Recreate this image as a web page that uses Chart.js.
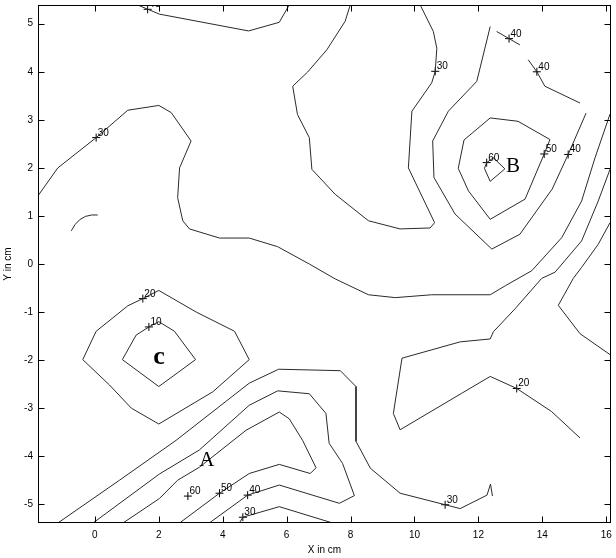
<!DOCTYPE html>
<html>
<head>
<meta charset="utf-8">
<script src="https://cdn.jsdelivr.net/npm/chart.js@4/dist/chart.umd.min.js"></script>
<style>
  html, body { margin: 0; padding: 0; background: #fff; }
</style>
</head>
<body>
<canvas id="plot" width="616" height="558"></canvas>
<script>
const xTicks = [0, 2, 4, 6, 8, 10, 12, 14, 16];
const yTicks = [-5, -4, -3, -2, -1, 0, 1, 2, 3, 4, 5];

// contour lines as [x, y] in cm
const topLine = [[1.34, 5.39], [2.02, 5.2], [4.81, 4.85], [5.77, 5.03], [6.08, 5.39]];
const middle30 = [
  [7.99, 5.39], [7.83, 5.05], [7.26, 4.46], [6.65, 3.99], [6.19, 3.7], [6.34, 3.11],
  [6.71, 2.63], [6.79, 1.97], [7.52, 1.45], [8.56, 0.9], [9.55, 0.73], [10.49, 0.75],
  [10.63, 0.86], [9.81, 2.0], [9.92, 3.18], [10.54, 3.77], [10.65, 4.01], [10.7, 4.49],
  [10.59, 4.84], [10.18, 5.39],
];
const left30 = [
  [-1.78, 1.42], [-1.16, 2.0], [0.04, 2.63], [1.03, 3.2], [2.0, 3.3], [2.39, 3.15],
  [3.01, 2.56], [2.65, 2.0], [2.59, 1.38], [2.75, 0.9], [2.96, 0.73], [3.9, 0.54],
  [4.83, 0.54], [5.72, 0.36], [6.71, 0.0], [7.52, -0.31], [8.56, -0.64], [9.4, -0.7],
  [10.54, -0.64], [12.37, -0.64], [12.85, -0.45], [13.67, -0.14], [14.61, 0.55],
  [15.23, 1.31], [15.65, 2.21], [16.12, 3.12],
];
const right20 = [
  [16.12, 1.97], [15.75, 1.31], [15.23, 0.48], [14.4, -0.17], [13.98, -0.3], [13.15, -0.93],
  [12.47, -1.41], [12.37, -1.56], [11.43, -1.62], [9.61, -1.96], [9.34, -3.11], [9.55, -3.45],
  [11.48, -2.69], [12.37, -2.34], [13.2, -2.59], [14.29, -3.07], [15.18, -3.62],
];
const rightEdge = [
  [16.12, 0.86], [15.75, 0.41], [15.23, -0.07], [14.97, -0.3], [14.5, -0.86], [15.18, -1.45],
  [16.15, -1.9],
];
const ringB40 = [
  [12.37, 4.94], [11.95, 3.8], [11.06, 3.18], [10.57, 2.56], [10.61, 1.8], [11.27, 1.04],
  [12.42, 0.31], [13.3, 0.62], [14.31, 1.56], [14.81, 2.28], [15.37, 3.14],
];
const ringB50 = [
  [12.37, 3.04], [13.24, 2.97], [14.24, 2.59], [14.06, 2.29], [13.46, 1.35], [12.37, 0.93],
  [11.69, 1.52], [11.37, 1.99], [11.55, 2.58], [12.37, 3.04],
];
const ringB60 = [[12.26, 2.11], [12.47, 2.21], [12.83, 1.98], [12.37, 1.72], [12.19, 1.99], [12.26, 2.11]];
const piece40a = [[12.57, 4.84], [12.96, 4.69], [13.3, 4.56]];
const piece40b = [[13.56, 4.25], [13.83, 4.0], [14.08, 3.7], [15.18, 3.35]];
const ringC20 = [
  [2.0, -0.55], [3.17, -1.0], [4.37, -1.4], [4.83, -1.99], [3.69, -2.66], [2.0, -3.33],
  [1.14, -3.0], [0.46, -2.52], [-0.38, -1.99], [0.04, -1.4], [1.03, -0.87], [1.5, -0.72],
  [2.0, -0.55],
];
const ringC10 = [
  [2.0, -1.2], [2.49, -1.4], [3.15, -1.99], [2.0, -2.55], [0.86, -1.99], [1.29, -1.48],
  [1.69, -1.31], [2.0, -1.2],
];
const arcLeft = [[-0.74, 0.69], [-0.62, 0.82], [-0.48, 0.92], [-0.3, 0.99], [-0.1, 1.02], [0.09, 1.02]];
const bottom30 = [
  [-1.16, -5.39], [0.77, -4.5], [2.54, -3.67], [4.83, -2.48], [5.75, -2.19], [7.68, -2.22],
  [8.17, -2.55], [8.17, -3.69], [8.62, -4.25], [9.55, -4.77], [10.96, -5.01], [11.43, -5.09],
  [12.27, -4.81], [12.38, -4.58], [12.44, -4.83],
];
const bottom40 = [
  [-0.06, -5.39], [2.02, -4.37], [3.27, -3.87], [4.83, -2.94], [5.72, -2.64], [6.71, -2.7],
  [7.23, -3.11], [7.33, -3.73], [7.75, -4.15], [8.12, -4.82], [7.65, -4.98], [5.77, -4.6],
  [4.78, -4.81], [3.58, -5.39],
];
const bottom50 = [
  [0.88, -5.39], [2.02, -4.88], [2.59, -4.5], [3.27, -4.23], [4.73, -3.46], [5.77, -3.08],
  [6.08, -3.22], [6.5, -3.67], [6.92, -4.24], [6.74, -4.36], [5.77, -4.17], [4.83, -4.36],
  [3.9, -4.77], [2.65, -5.39],
];
const bottomSmall30 = [[4.52, -5.39], [4.63, -5.27], [5.77, -5.05], [7.44, -5.39]];

const contourLines = [
  topLine, middle30, left30, right20, rightEdge, ringB40, ringB50, ringB60, piece40a, piece40b,
  ringC20, ringC10, arcLeft, bottom30, bottom40, bottom50, bottomSmall30,
];

// contour labels (+ marks)
const labelX = [1.65, 0.04, 10.65, 12.96, 13.83, 12.26, 14.06, 14.81, 1.5, 1.69, 13.2, 10.96, 2.91, 3.9, 4.78, 4.63];
const labelY = [5.3, 2.63, 4.01, 4.69, 4.0, 2.11, 2.29, 2.28, -0.72, -1.31, -2.59, -5.01, -4.83, -4.77, -4.81, -5.27];
const labelText = ['40', '30', '30', '40', '40', '60', '50', '40', '20', '10', '20', '30', '60', '50', '40', '30'];

// region letters
const letterText = ['A', 'B', 'c'];
const letterX = [3.5, 13.08, 2.01];
const letterY = [-4.08, 2.02, -1.94];

const datasets = contourLines.map((line) => ({
  data: line.map(([x, y]) => ({ x, y })),
  showLine: true,
  borderColor: '#2a2a2a',
  borderWidth: 1,
  pointRadius: 0,
  pointHoverRadius: 0,
  tension: 0,
}));
datasets.push({
  data: labelX.map((x, i) => ({ x, y: labelY[i] })),
  showLine: false,
  pointStyle: 'cross',
  pointRadius: 4,
  pointHoverRadius: 4,
  borderColor: '#000',
  borderWidth: 1,
});

const boxAndLabels = {
  id: 'boxAndLabels',
  afterDatasetsDraw(chart) {
    const { ctx, chartArea: a, scales: { x, y } } = chart;
    ctx.save();
    ctx.beginPath();
    ctx.rect(a.left, a.top, a.right - a.left, a.bottom - a.top);
    ctx.clip();
    ctx.fillStyle = '#000';
    ctx.font = '10px "Liberation Sans", Arial, sans-serif';
    ctx.textAlign = 'left';
    ctx.textBaseline = 'alphabetic';
    labelText.forEach((t, i) => {
      ctx.fillText(t, x.getPixelForValue(labelX[i]) + 1.5, y.getPixelForValue(labelY[i]) - 2);
    });
    ctx.textAlign = 'center';
    ctx.textBaseline = 'middle';
    letterText.forEach((t, i) => {
      ctx.font = t === 'c' ? 'bold 26px "Liberation Serif", serif' : '21px "Liberation Serif", serif';
      ctx.fillText(t, x.getPixelForValue(letterX[i]), y.getPixelForValue(letterY[i]));
    });
    ctx.restore();

    ctx.save();
    ctx.strokeStyle = '#000';
    ctx.lineWidth = 1;
    const l = Math.round(a.left) + 0.5, r = Math.round(a.right) - 0.5;
    const t = Math.round(a.top) + 0.5, b = Math.round(a.bottom) - 0.5;
    ctx.strokeRect(l, t, r - l, b - t);
    const len = 6;
    ctx.beginPath();
    xTicks.forEach((v) => {
      const px = Math.round(x.getPixelForValue(v)) + 0.5;
      ctx.moveTo(px, b); ctx.lineTo(px, b - len);
      ctx.moveTo(px, t); ctx.lineTo(px, t + len);
    });
    yTicks.forEach((v) => {
      const py = Math.round(y.getPixelForValue(v)) + 0.5;
      ctx.moveTo(l, py); ctx.lineTo(l + len, py);
      ctx.moveTo(r, py); ctx.lineTo(r - len, py);
    });
    ctx.stroke();
    ctx.restore();
  },
};

const tickFont = { family: '"Liberation Sans", Arial, sans-serif', size: 10 };

new Chart(document.getElementById('plot'), {
  type: 'scatter',
  data: { datasets },
  options: {
    responsive: false,
    animation: false,
    events: [],
    layout: { padding: { left: 0, top: 3, right: 4, bottom: 0 } },
    scales: {
      x: {
        type: 'linear',
        min: -1.78,
        max: 16.15,
        afterBuildTicks: (s) => { s.ticks = xTicks.map((v) => ({ value: v })); },
        afterFit: (s) => { s.height = 35; s.paddingLeft = 0; s.paddingRight = 0; },
        grid: { display: false, drawTicks: false },
        border: { display: false },
        ticks: { padding: 6, color: '#000', font: tickFont, maxRotation: 0, autoSkip: false },
        title: { display: true, text: 'X in cm', color: '#000', font: tickFont, padding: { top: 0, bottom: 2 } },
      },
      y: {
        type: 'linear',
        min: -5.39,
        max: 5.39,
        afterBuildTicks: (s) => { s.ticks = yTicks.map((v) => ({ value: v })); },
        afterFit: (s) => { s.width = 38; s.paddingTop = 0; s.paddingBottom = 0; },
        grid: { display: false, drawTicks: false },
        border: { display: false },
        ticks: { padding: 5, color: '#000', font: tickFont, autoSkip: false },
        title: { display: true, text: 'Y in cm', color: '#000', font: tickFont, padding: { top: 2, bottom: 0 } },
      },
    },
    plugins: {
      legend: { display: false },
      tooltip: { enabled: false },
    },
  },
  plugins: [boxAndLabels],
});
</script>
</body>
</html>
